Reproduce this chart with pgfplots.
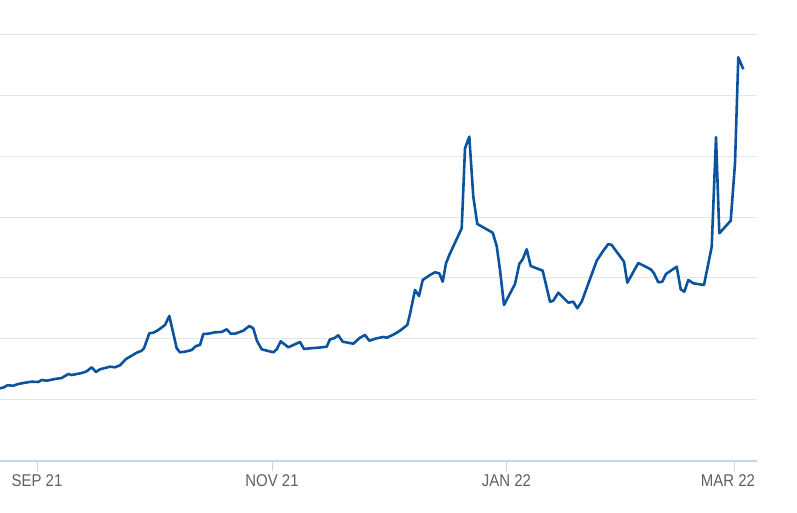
\documentclass[border=0pt]{standalone}
\usepackage{fontspec}
\setmainfont{Liberation Sans}
\newfontfamily\condfont[FakeStretch=0.88]{Liberation Sans}
\usepackage{pgfplots}
\pgfplotsset{compat=1.18}
\definecolor{linecol}{HTML}{0B539E}
\definecolor{gridcol}{HTML}{E4E4E4}
\definecolor{axiscol}{HTML}{C9D5EA}
\definecolor{labcol}{HTML}{606060}
\begin{document}
\begin{tikzpicture}[x=1pt,y=1pt]
\path[use as bounding box] (0,-52) rectangle (797,461);
\begin{axis}[
  at={(0,0)}, anchor=origin,
  scale only axis, width=757pt, height=461pt,
  xmin=0, xmax=757, ymin=0, ymax=461,
  axis x line=bottom, axis y line=left,
  x axis line style={-, draw=axiscol, line width=1.5pt},
  y axis line style={-, draw=none},
  ytick={61,122,183,243,304,365,426},
  yticklabels={},
  ymajorgrids, grid style={draw=gridcol, line width=1pt},
  ytick style={draw=none},
  xtick={37,272,506.5},
  xticklabels={SEP 21,NOV 21,JAN 22},
  extra x ticks={734},
  extra x tick labels={MAR 22},
  extra x tick style={xticklabel style={xshift=-6pt}, grid=none},
  tick align=outside, major tick length=10pt,
  xtick style={draw=axiscol, line width=1pt},
  xticklabel style={font=\condfont\fontsize{17}{19}\selectfont, text=labcol, inner sep=0pt, yshift=-3pt},
  clip=false,
]
\addplot[linecol, line width=2.6pt, line join=round] coordinates {
(0,72.7)(4,73.7)(7.3,75.7)(13.3,75.3)(18.3,77)(25,78.3)(31.7,79.3)(38.3,79)(41.7,81)(46.7,80.3)
(55,82)(61.7,83)(68.3,87)(71.7,86)(81.7,88)(86.7,89.7)(91.7,93.7)(96,89)(100,91.7)(110,94.3)
(115,93.7)(120,95.7)(126,102)(130,104.3)(136.7,108.3)(141.7,110.3)(144,112.7)(149.3,127.7)(153.3,128.3)(158.3,131)
(165,136)(169.3,145)(173.3,127.7)(176.7,112.7)(180,108.7)(185,109.3)(191.7,111)(196,115)(200,116)(203.3,127)
(208.3,127.3)(215,128.7)(221.7,129)(226.7,131.7)(230.7,127.3)(235,127.3)(243.3,130.3)(249.3,135)(253.3,132.7)(257,120)
(261.7,111.7)(273.3,108.7)(276.7,111.7)(280.7,119.7)(288.3,113.7)(300,119)(304,112)(310,112.7)(318.3,113.3)(326.7,114.3)
(330,121.7)(334,122.7)(338.3,125.7)(342.7,119.3)(353.3,117.3)(360,123.3)(365,126)(369.3,120.3)(376.7,122.7)(383.3,124)
(386.7,123.3)(393.3,126.3)(400,130.3)(407.3,136)(410,147)(415,171)(419,165)(422.7,181)(430,186)(435,188.7)
(439.3,187.7)(442.7,179.3)(446,197.7)(449.3,206)(461.7,232.7)(465,312.7)(469.3,324.3)(473.3,264.3)(477.3,237)(492.7,228.3)
(496.7,215)(500,191)(504,156)(515,177)(519.3,197)(522.7,201.7)(526.7,211.7)(530.7,195)(542.7,190.3)(550,159.3)
(553.3,160.3)(558.3,168.3)(568.3,158.3)(573.3,159.3)(577.3,152.7)(581.7,159.3)(596.7,200.3)(603.3,210.3)(608.3,217)(611.7,216)
(624,199.3)(627.3,178.3)(638.3,198)(650.7,191.7)(654,187.7)(658.3,178.7)(662.3,179.3)(666,187)(676.7,194.3)(680.7,171.7)
(684.3,169.3)(688.3,181)(693.3,177.7)(704,176)(711.7,214.3)(716,323.7)(719.3,227.7)(730.7,240.3)(735,297.7)(738.3,403.7)
(743.3,391.7)
};
\end{axis}
\end{tikzpicture}
\end{document}
